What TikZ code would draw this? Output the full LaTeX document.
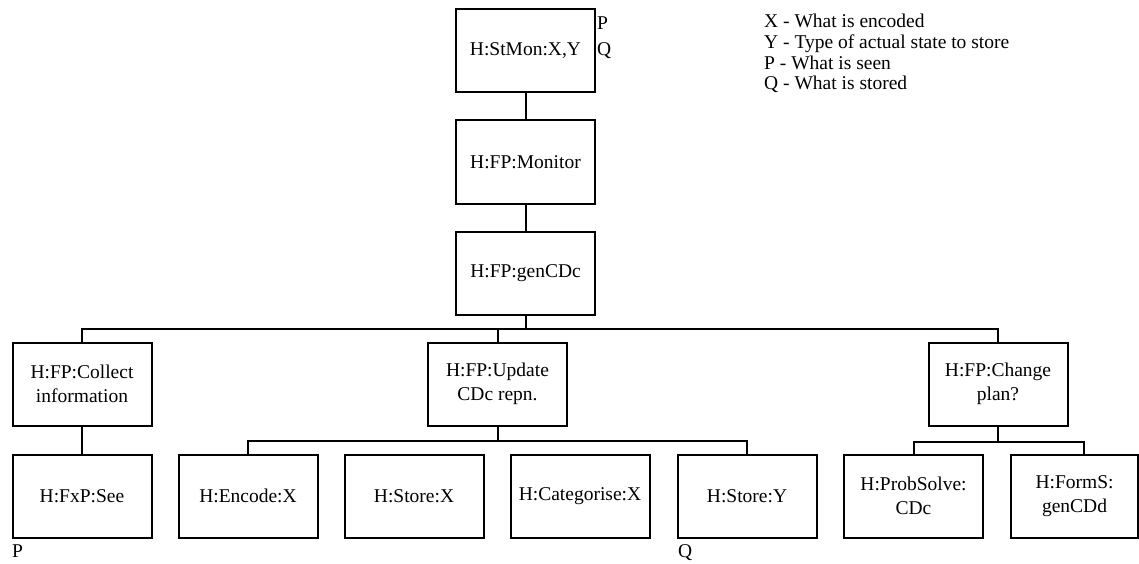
\documentclass[tikz,border=0pt]{standalone}
\usepackage{fontspec}
\setmainfont{Liberation Serif}
\begin{document}
\begin{tikzpicture}[x=1pt,y=-1pt,
  box/.style={draw, line width=2pt, minimum width=139pt, minimum height=83pt,
    inner sep=0pt, align=center, font=\fontsize{19.5}{24}\selectfont},
  wire/.style={line width=2pt},
  lbl/.style={inner sep=0pt, anchor=west, font=\fontsize{19.5}{24}\selectfont}]
\useasboundingbox (0,0) rectangle (1139,564);

% top chain
\node[box] (stmon) at (525.5,50.5) {H:StMon:X,Y};
\node[box] (mon)   at (525.5,162)  {H:FP:Monitor};
\node[box] (gen)   at (525.5,273)  {H:FP:genCDc};

% second level
\node[box] (coll) at (82,384)    {H:FP:Collect\\information};
\node[box] (upd)  at (497.5,384) {H:FP:Update\\CDc repn.};
\node[box] (chg)  at (998,384)   {H:FP:Change\\plan?};

% third level
\node[box] (see)   at (82,496)     {H:FxP:See};
\node[box] (enc)   at (248,496)    {H:Encode:X};
\node[box] (stx)   at (414,496)    {H:Store:X};
\node[box] (cat)   at (580,496)    {H:Categorise:X};
\node[box] (sty)   at (747,496)    {H:Store:Y};
\node[box] (prob)  at (913.5,496)  {H:ProbSolve:\\CDc};
\node[box, minimum width=127pt] (forms) at (1074.5,496) {H:FormS:\\genCDd};

% bus levels
\coordinate (b1) at (0,329);
\coordinate (b2) at (0,441);
\coordinate (b3) at (0,442);
\coordinate (fsin) at (1084,454);

% connectors
\draw[wire] (stmon) -- (mon);
\draw[wire] (mon) -- (gen);
\draw[wire] (gen.south) -- (gen.south |- b1);
\draw[wire] (coll.north) -- (coll.north |- b1) -- (chg.north |- b1) -- (chg.north);
\draw[wire] (upd.north) -- (upd.north |- b1);
\draw[wire] (coll) -- (see);
\draw[wire] (upd.south) -- (upd.south |- b2);
\draw[wire] (enc.north) -- (enc.north |- b2) -- (sty.north |- b2) -- (sty.north);
\draw[wire] (chg.south) -- (chg.south |- b3);
\draw[wire] (prob.north) -- (prob.north |- b3) -- (fsin |- b3) -- (fsin);

% side labels
\node[lbl] (ptop) at (597,23) {P};
\node[lbl] (qtop) at (597,51) {Q};
\node[lbl] (pbot) at (12,551) {P};
\node[lbl] (qbot) at (678,553) {Q};

% key
\node[inner sep=0pt, anchor=north west, align=left,
      font=\fontsize{19.5}{20.7}\selectfont] (key) at (764,14)
  {X - What is encoded\\
   Y - Type of actual state to store\\
   P - What is seen\\
   Q - What is stored};
\end{tikzpicture}
\end{document}
